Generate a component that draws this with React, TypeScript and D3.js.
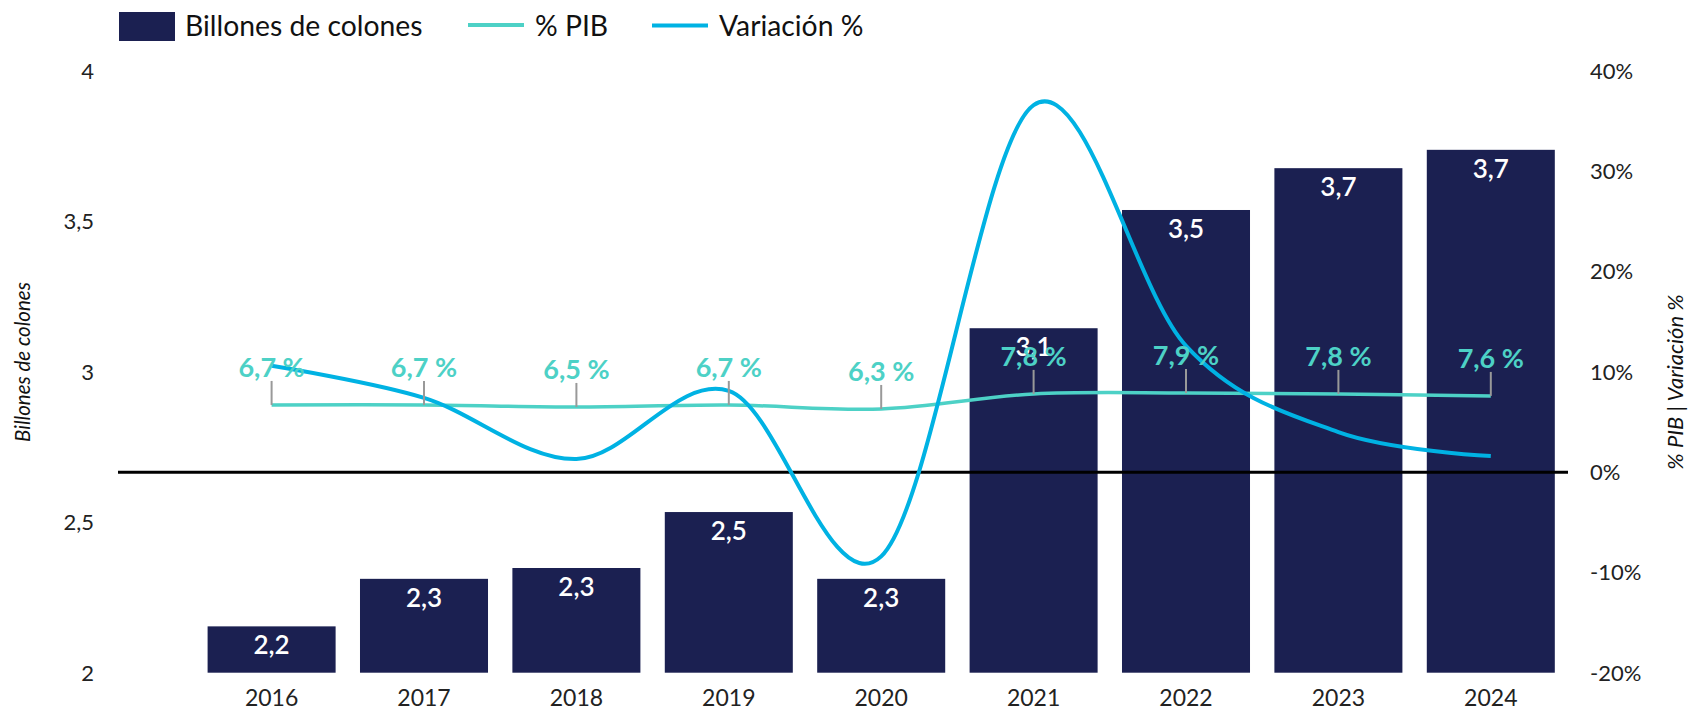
import React from "react";
import * as d3 from "d3";

const years = ["2016", "2017", "2018", "2019", "2020", "2021", "2022", "2023", "2024"];
const billones = [2.154, 2.312, 2.348, 2.534, 2.312, 3.145, 3.538, 3.677, 3.738];
const pib = [6.7, 6.7, 6.5, 6.7, 6.3, 7.8, 7.9, 7.8, 7.6];
const variacion = [10.6, 7.4, 1.3, 8.1, -8.4, 36.6, 12.6, 4.0, 1.6];
const leftTicks = [2, 2.5, 3, 3.5, 4];
const rightTicks = [-20, -10, 0, 10, 20, 30, 40];

const W = 1690;
const H = 713;
const BAR = "#1B2051";
const TEAL = "#4DD1C6";
const BLUE = "#00B2E3";
const FONT = "Lato, 'Open Sans', sans-serif";

export default function App() {
  const x = d3.scaleBand<string>().domain(years).range([195.4, 1567]).paddingInner(0.16).paddingOuter(0.08);
  const yL = d3.scaleLinear().domain([2, 4]).range([672.7, 71]);
  const yR = d3.scaleLinear().domain([-20, 40]).range([672.7, 71]);
  const cx = (i: number) => (x(years[i]) as number) + x.bandwidth() / 2;
  const fmt = (v: number) => d3.format(".1f")(v).replace(".", ",");
  const fmtTick = (v: number) => String(v).replace(".", ",");

  const line = d3
    .line<number>()
    .x((_, i) => cx(i))
    .y((d) => yR(d))
    .curve(d3.curveCatmullRom.alpha(0));

  return (
    <svg width={W} height={H} style={{ position: "absolute", left: 0, top: 0, background: "#fff" }} fontFamily={FONT}>
      {/* Legend */}
      <g>
        <rect x={119} y={12} width={56} height={29} fill={BAR} />
        <text x={185} y={36} fontSize={28.3} fill="#111">Billones de colones</text>
        <line x1={468} x2={524} y1={25} y2={25} stroke={TEAL} strokeWidth={4} />
        <text x={535} y={36} fontSize={28.3} fill="#111">% PIB</text>
        <line x1={652} x2={708} y1={25.5} y2={25.5} stroke={BLUE} strokeWidth={4} />
        <text x={719} y={36} fontSize={28.3} fill="#111">Variación %</text>
      </g>

      {/* Left axis ticks */}
      {leftTicks.map((t) => (
        <text key={"l" + t} x={94} y={yL(t)} dy="0.36em" textAnchor="end" fontSize={22} fill="#222">
          {fmtTick(t)}
        </text>
      ))}
      {/* Right axis ticks */}
      {rightTicks.map((t) => (
        <text key={"r" + t} x={1590} y={yR(t)} dy="0.36em" textAnchor="start" fontSize={22} fill="#222">
          {t + "%"}
        </text>
      ))}
      <text
        transform={`translate(30,362) rotate(-90)`}
        textAnchor="middle"
        fontSize={20.5}
        fontStyle="italic"
        fill="#111"
      >
        Billones de colones
      </text>
      <text
        transform={`translate(1683,382) rotate(-90)`}
        textAnchor="middle"
        fontSize={22}
        fontStyle="italic"
        fill="#111"
      >
        % PIB | Variación %
      </text>

      {/* Bars */}
      {billones.map((v, i) => (
        <rect
          key={"b" + i}
          x={x(years[i])}
          y={yL(v)}
          width={x.bandwidth()}
          height={yL(2) - yL(v)}
          fill={BAR}
        />
      ))}

      {/* Year labels */}
      {years.map((yr, i) => (
        <text key={"x" + yr} x={cx(i)} y={706} textAnchor="middle" fontSize={23} fill="#222">
          {yr}
        </text>
      ))}

      {/* zero line */}
      <line x1={118} x2={1568} y1={yR(0)} y2={yR(0)} stroke="#000" strokeWidth={3} />

      {/* Bar labels */}
      {billones.map((v, i) => (
        <text
          key={"bl" + i}
          x={cx(i)}
          y={yL(v) + 28}
          textAnchor="middle"
          fontSize={26}
          fontWeight={600}
          fill="#fff"
        >
          {fmt(v)}
        </text>
      ))}

      {/* PIB line */}
      <path d={line(pib) || ""} fill="none" stroke={TEAL} strokeWidth={3.5} />
      {/* Variación line */}
      <path d={line(variacion) || ""} fill="none" stroke={BLUE} strokeWidth={4} />

      {/* PIB leaders & labels */}
      {pib.map((v, i) => (
        <g key={"p" + i}>
          <line x1={cx(i)} x2={cx(i)} y1={yR(v) - 24} y2={yR(v)} stroke="#999" strokeWidth={2} />
          <text x={cx(i)} y={yR(v) - 28} textAnchor="middle" fontSize={27} fontWeight={700} fill={TEAL}>
            {fmt(v) + " %"}
          </text>
        </g>
      ))}
    </svg>
  );
}
